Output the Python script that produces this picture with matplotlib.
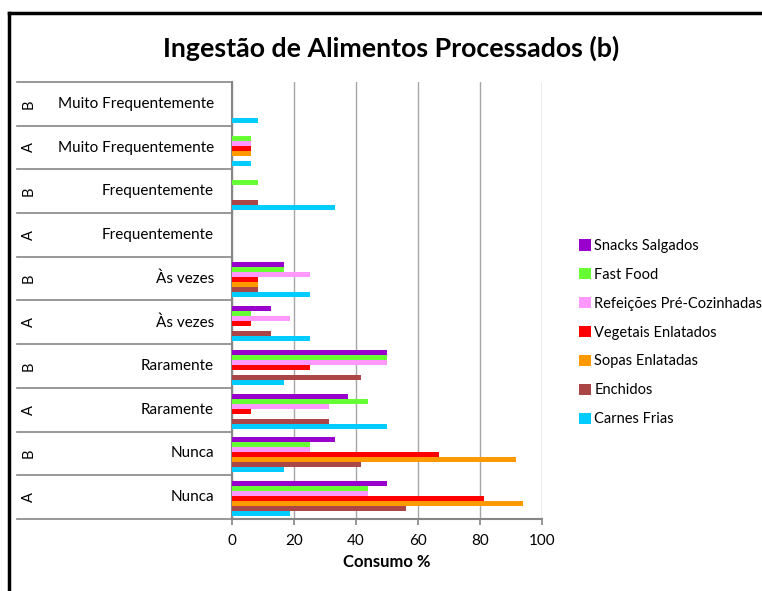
import matplotlib
matplotlib.use("Agg")
import matplotlib.pyplot as plt
from matplotlib.lines import Line2D
from matplotlib.patches import Patch
import matplotlib.transforms as mtransforms
import numpy as np

plt.rcParams['font.family'] = ['Lato', 'DejaVu Sans']

# Categories, bottom to top
groups = ['A', 'B', 'A', 'B', 'A', 'B', 'A', 'B', 'A', 'B']
answers = ['Nunca', 'Nunca', 'Raramente', 'Raramente', 'Às vezes', 'Às vezes',
           'Frequentemente', 'Frequentemente', 'Muito Frequentemente', 'Muito Frequentemente']

# Series (bottom bar of each group first)
carnes_frias = [18.75, 16.67, 50.0, 16.67, 25.0, 25.0, 0, 33.33, 6.25, 8.33]
enchidos = [56.25, 41.67, 31.25, 41.67, 12.5, 8.33, 0, 8.33, 0, 0]
sopas_enlatadas = [93.75, 91.67, 0, 0, 0, 8.33, 0, 0, 6.25, 0]
vegetais_enlatados = [81.25, 66.67, 6.25, 25.0, 6.25, 8.33, 0, 0, 6.25, 0]
refeicoes_pre_cozinhadas = [43.75, 25.0, 31.25, 50.0, 18.75, 25.0, 0, 0, 6.25, 0]
fast_food = [43.75, 25.0, 43.75, 50.0, 6.25, 16.67, 0, 8.33, 6.25, 0]
snacks_salgados = [50.0, 33.33, 37.5, 50.0, 12.5, 16.67, 0, 0, 0, 0]

series_names = ['Carnes Frias', 'Enchidos', 'Sopas Enlatadas', 'Vegetais Enlatados',
                'Refeições Pré-Cozinhadas', 'Fast Food', 'Snacks Salgados']
series_values = [carnes_frias, enchidos, sopas_enlatadas, vegetais_enlatados,
                 refeicoes_pre_cozinhadas, fast_food, snacks_salgados]
series_colors = ['#00CCFF', '#AA4646', '#FF9900', '#FF0000', '#FF99FF', '#66FF33', '#9900CC']

x_ticks = [0, 20, 40, 60, 80, 100]

W, H = 762, 591
fig = plt.figure(figsize=(W / 100, H / 100), dpi=100)
fig.patch.set_facecolor('white')

ax_l, ax_r, ax_t, ax_b = 232, 542, 82, 519
ax = fig.add_axes([ax_l / W, 1 - ax_b / H, (ax_r - ax_l) / W, (ax_b - ax_t) / H])

n_cat = len(groups)
n_ser = len(series_names)
group_h = 0.8
bar_h = group_h / n_ser
ypos = np.arange(n_cat)
for i, (vals, col) in enumerate(zip(series_values, series_colors)):
    off = -group_h / 2 + bar_h * (i + 0.5) - 0.03
    ax.barh(ypos + off, vals, height=bar_h, color=col, edgecolor='none', zorder=3)

ax.set_xlim(0, 100)
ax.set_ylim(-0.5, n_cat - 0.5)
ax.set_xticks(x_ticks)
ax.set_xticklabels([str(t) for t in x_ticks], fontsize=11)
ax.tick_params(axis='x', direction='out', length=4, width=1.2, color='#868686', pad=7)
ax.set_yticks([])
ax.grid(axis='x', color='#A6A6A6', linewidth=1.0, zorder=0)
for s in ['top', 'right']:
    ax.spines[s].set_visible(False)
for s in ['left', 'bottom']:
    ax.spines[s].set_color('#868686')
    ax.spines[s].set_linewidth(1.5)
ax.set_xlabel('Consumo %', fontsize=12, fontweight='bold', labelpad=4)

# Multi-level category labels with divider lines
trans = mtransforms.blended_transform_factory(ax.transAxes, ax.transData)
x_left = (17 - ax_l) / (ax_r - ax_l)
x_ab = (29 - ax_l) / (ax_r - ax_l)
x_name = (214 - ax_l) / (ax_r - ax_l)
for k in range(n_cat + 1):
    ax.add_line(Line2D([x_left, 0], [k - 0.5, k - 0.5], transform=trans,
                       color='#868686', linewidth=1.2, clip_on=False))
for k in range(n_cat):
    ax.text(x_ab, k, groups[k], transform=trans, rotation=90, ha='center',
            va='center', fontsize=10.5)
    ax.text(x_name, k, answers[k], transform=trans, ha='right', va='center',
            fontsize=11)

# Legend, top entry first
handles = [Patch(facecolor=c, edgecolor='none') for c in series_colors[::-1]]
leg = fig.legend(handles, series_names[::-1], loc='upper left',
                 bbox_to_anchor=(579 / W, 1 - 239 / H), frameon=False,
                 fontsize=10.5, handlelength=0.8, handleheight=0.8,
                 handletextpad=0.25, labelspacing=1.02, borderpad=0, borderaxespad=0)

fig.text(391 / W, 1 - 48 / H, 'Ingestão de Alimentos Processados (b)',
         ha='center', va='center', fontsize=19.3, fontweight='bold')

# Outer frame
fig.add_artist(Line2D([9 / W, 1], [1 - 13 / H, 1 - 13 / H], color='black', linewidth=2.5))
fig.add_artist(Line2D([9 / W, 9 / W], [1 - 13 / H, 0], color='black', linewidth=2.5))

fig.savefig('out.png', dpi=100)
